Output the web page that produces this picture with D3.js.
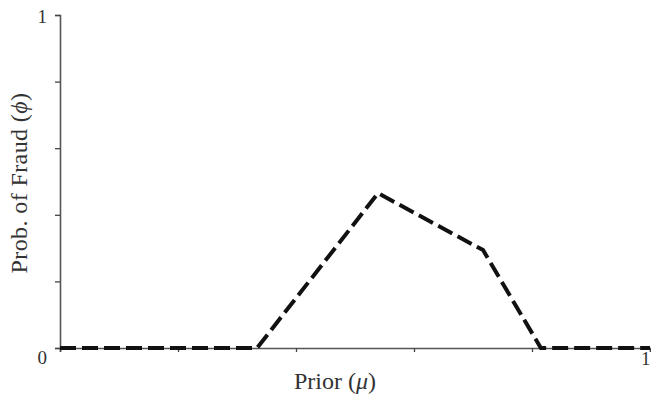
<!DOCTYPE html>
<html>
<head>
<meta charset="utf-8">
<script src="https://cdn.jsdelivr.net/npm/d3@7"></script>
<style>
  body { margin: 0; background: #fff; }
  svg { display: block; }
  text { font-family: "Liberation Serif", "DejaVu Serif", serif; fill: #333; }
</style>
</head>
<body>
<svg width="651" height="395"></svg>
<script>
// prior (mu) values and probability of fraud (phi)
var priorVals = [0, 0.334, 0.539, 0.717, 0.815, 1];
var fraudVals = [0, 0, 0.465, 0.294, 0, 0];
var xTicks = [0, 0.2, 0.4, 0.6, 0.8, 1];
var yTicks = [0, 0.2, 0.4, 0.6, 0.8, 1];

let svg = d3.select("svg");

let margin = { top: 15, right: 1, bottom: 47, left: 60 };
let plotWidth = 651 - margin.left - margin.right;
let plotHeight = 395 - margin.top - margin.bottom;

let xScale = d3.scaleLinear().domain([0, 1]).range([0, plotWidth]);
let yScale = d3.scaleLinear().domain([0, 1]).range([plotHeight, 0]);

let plot = svg.append("g")
  .attr("transform", "translate(" + margin.left + "," + margin.top + ")");

// x axis, only the end label is shown
let xAxis = d3.axisBottom(xScale)
  .tickValues(xTicks)
  .tickSize(4)
  .tickFormat(function(d) { return (d === 1) ? "1" : ""; });
let xGroup = plot.append("g")
  .attr("transform", "translate(0," + plotHeight + ")")
  .call(xAxis);

let yAxis = d3.axisLeft(yScale)
  .tickValues(yTicks)
  .tickSize(5)
  .tickFormat(function(d) { return (d === 0 || d === 1) ? d : ""; });
let yGroup = plot.append("g").call(yAxis);

[xGroup, yGroup].forEach(function(g) {
  g.select(".domain").attr("stroke", "#555").attr("stroke-width", 1.6);
  g.selectAll(".tick line").attr("stroke", "#444").attr("stroke-width", 1.3);
  g.selectAll(".tick text")
    .style("font-family", "Liberation Serif, serif")
    .style("font-size", "19px")
    .attr("fill", "#333");
});
xGroup.selectAll(".tick text").attr("dy", "0.5em").attr("text-anchor", "end").attr("x", 0);
yGroup.selectAll(".tick text").attr("x", -13).attr("dy", "0.8em");
yGroup.selectAll(".tick text").filter(function(d) { return d === 1; }).attr("dy", "0.4em");

// the dashed line
let line = d3.line()
  .x(function(d, i) { return xScale(priorVals[i]); })
  .y(function(d) { return yScale(d); });

plot.append("path")
  .datum(fraudVals)
  .attr("d", line)
  .attr("fill", "none")
  .attr("stroke", "#111")
  .attr("stroke-width", 4)
  .attr("stroke-dasharray", "16,6");

// labels
let xl = svg.append("text")
  .attr("x", 335)
  .attr("y", 389)
  .attr("text-anchor", "middle")
  .style("font-size", "24px");
xl.append("tspan").text("Prior (");
xl.append("tspan").style("font-style", "italic").text("μ");
xl.append("tspan").text(")");

let yl = svg.append("text")
  .attr("transform", "translate(27,183) rotate(-90)")
  .attr("text-anchor", "middle")
  .style("font-size", "24px")
  .style("letter-spacing", "0.4px");
yl.append("tspan").text("Prob. of Fraud (");
yl.append("tspan").style("font-style", "italic").text("ϕ");
yl.append("tspan").text(")");
</script>
</body>
</html>
